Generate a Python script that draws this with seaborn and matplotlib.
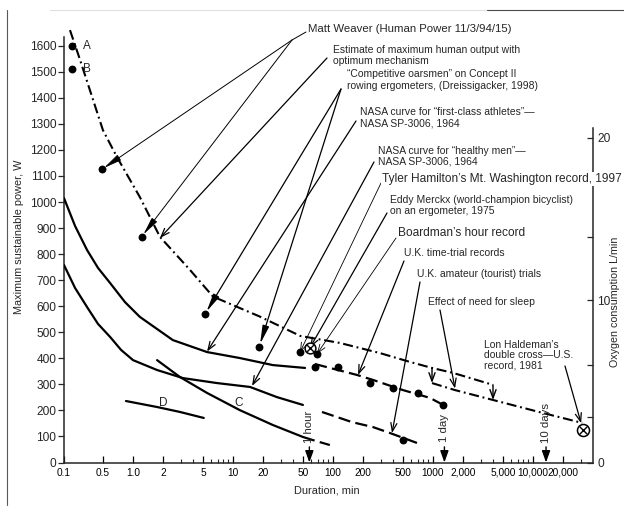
import numpy as np
import pandas as pd
import matplotlib
matplotlib.use("Agg")
import matplotlib.pyplot as plt
from matplotlib.lines import Line2D
from matplotlib.ticker import FixedLocator, FixedFormatter, NullFormatter
import seaborn as sns

# ---------------- data ----------------
# dash-dot: estimate of maximum human output with optimum mechanism
est_x = [0.128, 0.194, 0.5, 0.69, 1.17, 1.86, 3.7, 6.3, 18.6, 47, 117, 295, 589, 977, 1585, 3981]
est_w = [1660, 1546, 1276, 1173, 1019, 866, 740, 637, 560, 486, 459, 420, 386, 363, 344, 298]
# dash-dot branch that includes the effect of need for sleep
sleep_x = [977, 1660, 3981, 12589, 31000]
sleep_w = [305, 278, 240, 190, 152]
# NASA curve for first-class athletes
nasa1_x = [0.1, 0.158, 0.259, 0.408, 0.59, 0.83, 1.17, 2.5, 5.5, 11.7, 25, 52.5]
nasa1_w = [1015, 908, 816, 747, 689, 616, 559, 470, 424, 401, 374, 363]
# NASA curve for healthy men
nasa2_x = [0.1, 0.158, 0.259, 0.408, 0.59, 0.76, 1.0, 1.74, 3.16, 6.9, 14.8, 27.5, 50]
nasa2_w = [758, 670, 597, 532, 482, 432, 393, 355, 324, 305, 290, 251, 221]
# curve C (solid then dashed)
c_x = [1.74, 2.95, 5.5, 11.7, 25, 50]
c_w = [393, 328, 267, 201, 144, 98]
c_dash_x = [50, 63, 93]
c_dash_w = [98, 86, 67]
# curve D
d_x = [0.85, 1.74, 2.95, 5.1]
d_w = [236, 213, 194, 171]
# U.K. time-trial records
tt_line_x = [66, 174, 251, 501, 933, 1380]
tt_line_w = [378, 336, 317, 278, 248, 213]
tt_dot_x = [66, 112, 234, 398, 708, 1259]
tt_dot_w = [367, 367, 305, 286, 267, 221]
# U.K. amateur (tourist) trials
am_line_x = [77.6, 155, 251, 372, 692]
am_line_w = [194, 155, 136, 113, 75]
am_dot_x = [501]
am_dot_w = [86]
# single points
ab_x = [0.14, 0.14]
ab_w = [1600, 1510]
ab_labels = ["A", "B"]
weaver_x = [0.475, 1.22]
weaver_w = [1125, 867]
oars_x = [5.25, 18.3]
oars_w = [570, 445]
cluster_x = [46.8, 69.2]
cluster_w = [424, 417]
board_x = [58.9]
board_w = [441]
hald_x = [31623]
hald_w = [125]
# need-for-sleep brackets
bracket_x = [977, 3981]
bracket_top = [363, 298]
bracket_bot = [305, 240]
# time markers
mark_x = [58, 1300, 13500]
mark_labels = ["1 hour", "1 day", "10 days"]
mark_text_w = [136, 132, 152]
# curve letters
curve_letters = ["D", "C"]
letter_x = [2.0, 11.5]
letter_w = [230, 228]

# ticks
xticks = [0.1, 0.5, 1, 2, 5, 10, 20, 50, 100, 200, 500, 1000, 2000, 5000, 10000, 20000]
xtick_labels = ["0.1", "0.5", "1.0", "2", "5", "10", "20", "50", "100", "200", "500",
                "1000", "2,000", "5,000", "10,000", "20,000"]
yticks = list(range(0, 1700, 100))
o2_ticks = [0, 10, 20]
o2_minor = [2.8, 6.0, 13.9]

# ---------------- style ----------------
sns.set_style("ticks")
plt.rcParams["font.family"] = ["Liberation Sans", "DejaVu Sans"]
plt.rcParams["axes.linewidth"] = 1.1

W, H = 624, 507
fig = plt.figure(figsize=(W / 100, H / 100), dpi=100)


def F(px, py):
    return (px / W, 1 - py / H)


ax = fig.add_axes([64 / W, (H - 462.5) / H, 529 / W, 437.6 / H])
ax2 = ax.twinx()

K = 0.557
L05 = np.log10(0.5)


def fwd(x):
    x = np.asarray(x, dtype=float)
    with np.errstate(all="ignore"):
        lx = np.log10(np.clip(x, 1e-9, None))
    return np.where(lx >= L05, lx, L05 + (lx - L05) * K)


def inv(u):
    u = np.asarray(u, dtype=float)
    with np.errstate(all="ignore"):
        return np.where(u >= L05, 10.0 ** u, 10.0 ** (L05 + (u - L05) / K))


DASHDOT = (0, (4.8, 1.8, 0.9, 1.8))
DASHED = (0, (5.5, 2.4))

common = dict(ax=ax, color="black", sort=False, estimator=None, zorder=3)
sns.lineplot(x=est_x, y=est_w, lw=1.5, linestyle=DASHDOT, **common)
sns.lineplot(x=sleep_x, y=sleep_w, lw=1.5, linestyle=DASHDOT, **common)
sns.lineplot(x=nasa1_x, y=nasa1_w, lw=1.6, **common)
sns.lineplot(x=nasa2_x, y=nasa2_w, lw=1.6, **common)
sns.lineplot(x=c_x, y=c_w, lw=1.6, **common)
sns.lineplot(x=c_dash_x, y=c_dash_w, lw=1.6, linestyle=DASHED, **common)
sns.lineplot(x=d_x, y=d_w, lw=1.6, **common)
sns.lineplot(x=tt_line_x, y=tt_line_w, lw=1.6, linestyle=DASHED, **common)
sns.lineplot(x=am_line_x, y=am_line_w, lw=1.6, linestyle=DASHED, **common)

dot = dict(ax=ax, color="black", s=32, edgecolor="black", linewidth=0, zorder=5)
sns.scatterplot(x=ab_x, y=ab_w, **dot)
sns.scatterplot(x=weaver_x, y=weaver_w, **dot)
sns.scatterplot(x=oars_x, y=oars_w, **dot)
sns.scatterplot(x=cluster_x, y=cluster_w, **dot)
sns.scatterplot(x=tt_dot_x, y=tt_dot_w, **dot)
sns.scatterplot(x=am_dot_x, y=am_dot_w, **dot)
for xs, ws, s in ((board_x, board_w, 60), (hald_x, hald_w, 75)):
    sns.scatterplot(x=xs, y=ws, ax=ax, marker="o", s=s, color="black", facecolor="white",
                    edgecolor="black", linewidth=1.1, zorder=6)
    sns.scatterplot(x=xs, y=ws, ax=ax, marker="x", s=s * 0.42, color="black",
                    linewidth=1.0, zorder=7)

# ---------------- scales / axes ----------------
ax.set_xscale("function", functions=(fwd, inv))
ax.set_xlim(0.1, 39811)
ax.set_ylim(0, 1680)
ax.xaxis.set_major_locator(FixedLocator(xticks))
ax.xaxis.set_major_formatter(FixedFormatter(xtick_labels))
minor = [m * 10 ** e for e in range(0, 5) for m in (3, 4, 6, 7, 8, 9)]
minor = sorted(set([v for v in minor if v < 39000]))
ax.xaxis.set_minor_locator(FixedLocator(minor))
ax.xaxis.set_minor_formatter(NullFormatter())
ax.yaxis.set_major_locator(FixedLocator(yticks))
ax.yaxis.set_major_formatter(FixedFormatter([str(v) for v in yticks]))
ax.tick_params(axis="x", which="major", direction="in", length=5, width=0.9,
               labelsize=7.3, pad=3.8, colors="black")
ax.tick_params(axis="x", which="minor", direction="in", length=3, width=0.8)
ax.tick_params(axis="y", which="major", direction="out", length=4, width=0.9,
               labelsize=8.6, pad=1.5)
ax.spines["top"].set_visible(False)
ax.spines["right"].set_visible(False)
ax.spines["left"].set_bounds(0, 1632)

ax2.set_ylim(0, 26.93)
ax2.yaxis.set_major_locator(FixedLocator(o2_ticks))
ax2.yaxis.set_major_formatter(FixedFormatter([str(v) for v in o2_ticks]))
ax2.yaxis.set_minor_locator(FixedLocator(o2_minor))
ax2.yaxis.set_minor_formatter(NullFormatter())
ax2.tick_params(axis="y", which="major", direction="in", length=4, width=0.9,
                labelsize=8.6, pad=3)
ax2.tick_params(axis="y", which="minor", direction="in", length=4, width=0.9)
for s in ("top", "left", "bottom"):
    ax2.spines[s].set_visible(False)
ax2.spines["right"].set_bounds(0, 20.6)
ax2.spines["right"].set_linewidth(1.1)

ax.set_xlabel("Duration, min", fontsize=7.9, va="center", ha="center")
ax.xaxis.set_label_coords(0.497, -0.063)
ax.set_ylabel("Maximum sustainable power, W", fontsize=7.8, va="center", ha="center")
ax.yaxis.set_label_coords(-0.086, 0.5165)
ax2.set_ylabel("Oxygen consumption L/min", fontsize=7.7, va="center", ha="center")
ax2.yaxis.set_label_coords(1.042, 0.367)

# ---------------- text and pointers ----------------
for xv, wv, lab in zip(ab_x, ab_w, ab_labels):
    ax.annotate(lab, xy=(xv, wv), xytext=(7.5, 0), textcoords="offset points",
                ha="left", va="center", fontsize=8.5)
for lab, xv, wv in zip(curve_letters, letter_x, letter_w):
    ax.text(xv, wv, lab, ha="center", va="center", fontsize=8.5)

for xv, lab, tw in zip(mark_x, mark_labels, mark_text_w):
    ax.text(xv, tw, lab, rotation=90, ha="center", va="center", fontsize=8.2)
    ax.annotate("", xy=(xv, 0), xytext=(xv, 60),
                arrowprops=dict(arrowstyle="-|>,head_length=0.7,head_width=0.25",
                                lw=1.0, color="black", shrinkA=0, shrinkB=0, mutation_scale=10))

for xv, top, bot in zip(bracket_x, bracket_top, bracket_bot):
    ax.annotate("", xy=(xv, bot), xytext=(xv, top),
                arrowprops=dict(arrowstyle="->,head_length=0.6,head_width=0.22",
                                lw=1.0, color="black", shrinkA=0, shrinkB=0, mutation_scale=10))


def pointer(target, start_px, style="->", lw=0.9, hl=0.6, hw=0.22, shrinkB=0):
    ax.annotate("", xy=target, xycoords="data", xytext=F(*start_px),
                textcoords="figure fraction", annotation_clip=False,
                arrowprops=dict(arrowstyle=f"{style},head_length={hl},head_width={hw}",
                                lw=lw, color="black", shrinkA=0, shrinkB=shrinkB,
                                mutation_scale=10))


def label(px, py, lines, size=7.5, step=11.0, **kw):
    for i, s in enumerate(lines):
        fig.text(*F(px, py + i * step), s, ha="left", va="center", fontsize=size, **kw)


label(308, 29, ["Matt Weaver (Human Power 11/3/94/15)"], size=8.2)
ax.annotate("", xy=F(292, 40), xycoords="figure fraction", xytext=F(306, 32),
            textcoords="figure fraction",
            arrowprops=dict(arrowstyle="-", lw=0.7, color="black", shrinkA=0, shrinkB=0))
for xv, wv in zip(weaver_x, weaver_w):
    pointer((xv, wv), (292, 40), style="-|>", lw=0.7, hl=1.1, hw=0.2, shrinkB=2)

label(333, 50, ["Estimate of maximum human output with", "optimum mechanism"], step=10.5)
pointer((1.86, 862), (327, 58))

label(347, 74, ["\u201cCompetitive oarsmen\u201d on Concept II",
                "rowing ergometers, (Dreissigacker, 1998)"], step=12)
for xv, wv in zip(oars_x, oars_w):
    pointer((xv, wv), (341, 89), style="-|>", lw=0.9, hl=1.1, hw=0.2, shrinkB=2)

label(360, 112, ["NASA curve for \u201cfirst-class athletes\u201d\u2014", "NASA SP-3006, 1964"], step=12)
pointer((5.5, 426), (356, 121))

label(378, 151, ["NASA curve for \u201chealthy men\u201d\u2014", "NASA SP-3006, 1964"], step=10.5)
pointer((15.5, 294), (374, 162))

label(382, 179, ["Tyler Hamilton\u2019s Mt. Washington record, 1997"], size=8.6,
      bbox=dict(facecolor="white", edgecolor="none", pad=1.0))
pointer((cluster_x[0], cluster_w[0]), (381, 183), lw=0.6)

label(390, 200, ["Eddy Merckx (world-champion bicyclist)", "on an ergometer, 1975"], step=10.5)
pointer((board_x[0], board_w[0]), (387, 213))

label(398, 233, ["Boardman\u2019s hour record"], size=8.6)
pointer((cluster_x[1], cluster_w[1]), (396, 238), lw=0.6)

label(404, 253, ["U.K. time-trial records"])
pointer((178, 336), (404, 261))

label(417, 274, ["U.K. amateur (tourist) trials"])
pointer((389, 113), (420, 282))

label(428, 302, ["Effect of need for sleep"])
pointer((1660, 284), (440, 310))

label(484, 345, ["Lon Haldeman\u2019s", "double cross\u2014U.S.", "record, 1981"], step=10.5)
pointer((hald_x[0], hald_w[0]), (565, 366), shrinkB=5)

# scan border lines
fig.add_artist(Line2D([7 / W, 7 / W], [1 - 10 / H, 1 - 505 / H], transform=fig.transFigure,
                      color="0.35", lw=0.8))
fig.add_artist(Line2D([50 / W, 487 / W], [1 - 10 / H, 1 - 10 / H], transform=fig.transFigure,
                      color="0.88", lw=0.8))
fig.add_artist(Line2D([487 / W, 1.0], [1 - 9.5 / H, 1 - 9.5 / H], transform=fig.transFigure,
                      color="0.3", lw=0.8))

fig.savefig("out.png", dpi=100, facecolor="white")
